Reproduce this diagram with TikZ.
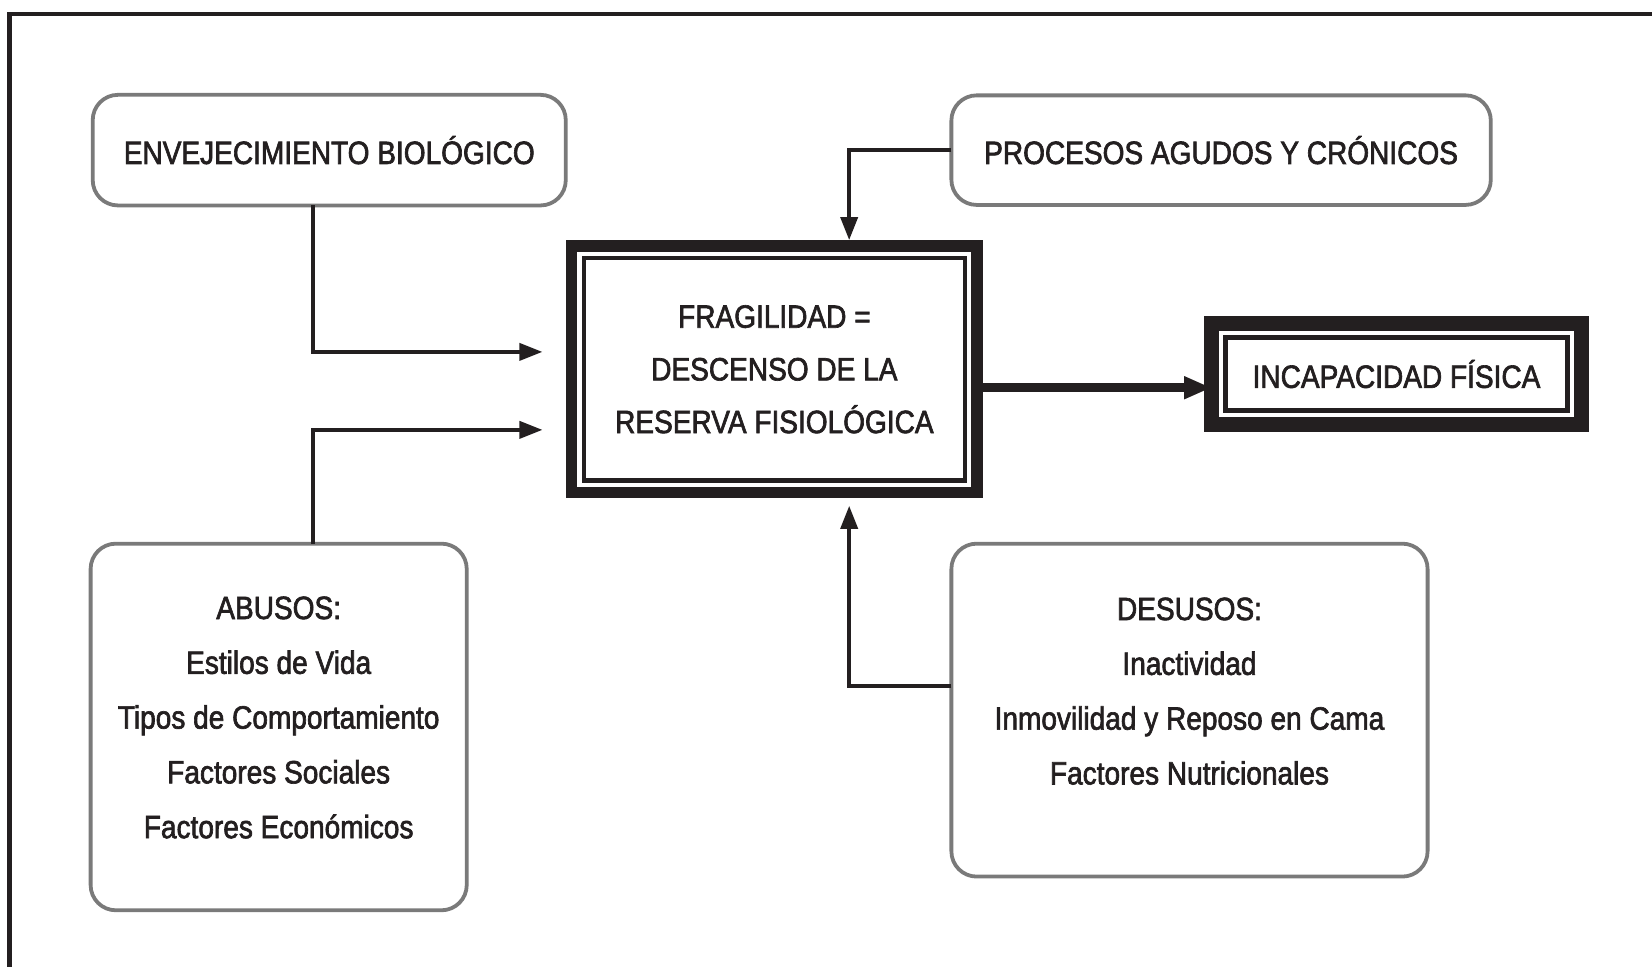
\documentclass[tikz,border=0pt]{standalone}
\usepackage{fontspec}
\setmainfont[FakeStretch=0.87,FakeBold=2]{Liberation Sans}
\usetikzlibrary{arrows.meta}
\definecolor{ink}{HTML}{231F20}
\definecolor{rim}{HTML}{7A7A7A}
\tikzset{
  txt/.style={font=\fontsize{15.3}{26}\selectfont, text=ink, align=center, inner sep=0pt},
  rbox/.style={draw=rim, line width=1.8pt, rounded corners=12pt, outer sep=0pt, inner sep=0pt},
  bigbox/.style={draw=ink, outer sep=0pt, inner sep=0pt},
  conn/.style={draw=ink, line width=2pt, -{Triangle[length=11pt,width=8pt]}},
  mainconn/.style={draw=ink, line width=4.4pt, -{Triangle[length=13pt,width=10pt]}}
}
\begin{document}
\begin{tikzpicture}[x=0.5pt,y=-0.5pt]
\useasboundingbox (0,0) rectangle (1568,917);
% outer frame (left and top edges)
\draw[ink, line width=2pt] (9,930) -- (9,13) -- (1580,13);

% boxes
\node[rbox, minimum width=224.5pt, minimum height=52.5pt] (env) at (312.5,142.5) {};
\node[txt] at (env.center) {ENVEJECIMIENTO BIOLÓGICO};

\node[rbox, minimum width=256pt, minimum height=52pt] (proc) at (1159,142.5) {};
\node[txt] at (proc.center) {PROCESOS AGUDOS Y CRÓNICOS};

\node[bigbox, line width=5.5pt, minimum width=192.5pt, minimum height=117pt] (frag) at (735,350.5) {};
\draw[ink, line width=2pt] ([shift={(5.75pt,5.75pt)}]frag.south west) rectangle ([shift={(-5.75pt,-5.75pt)}]frag.north east);
\node[txt, font=\fontsize{15.3}{25}\selectfont] at (frag.center) {FRAGILIDAD =\\DESCENSO DE LA\\RESERVA FISIOLÓGICA};

\node[bigbox, line width=7pt, minimum width=175.5pt, minimum height=48pt] (incap) at (1325.5,355) {};
\draw[ink, line width=2.5pt] ([shift={(6.75pt,6.75pt)}]incap.south west) rectangle ([shift={(-6.75pt,-6.75pt)}]incap.north east);
\node[txt] at (incap.center) {INCAPACIDAD FÍSICA};

\node[rbox, minimum width=178.5pt, minimum height=174pt] (abusos) at (264.5,690) {};
\node[txt] at ([yshift=4.5pt]abusos.center) {ABUSOS:\\Estilos de Vida\\Tipos de Comportamiento\\Factores Sociales\\Factores Económicos};

\node[rbox, minimum width=226pt, minimum height=158pt] (desusos) at (1129,674) {};
\node[txt] at ([yshift=9pt]desusos.center) {DESUSOS:\\Inactividad\\Inmovilidad y Reposo en Cama\\Factores Nutricionales};

% connectors
\draw[conn, shorten >=13.75pt] ([xshift=-7.75pt]env.south) |- ([yshift=8.25pt]frag.west);
\draw[conn, shorten >=13.75pt] ([xshift=16.25pt]abusos.north) |- ([yshift=-28.75pt]frag.west);
\draw[conn, shorten >=2.75pt] (proc.west) -| ([xshift=35.5pt]frag.north);
\draw[conn, shorten >=6.25pt] ([yshift=11.5pt]desusos.west) -| ([xshift=35.5pt]frag.south);
\draw[mainconn] ([yshift=-8.75pt]frag.east) -- ([yshift=-8.75pt]frag.east -| incap.west);
\end{tikzpicture}
\end{document}
